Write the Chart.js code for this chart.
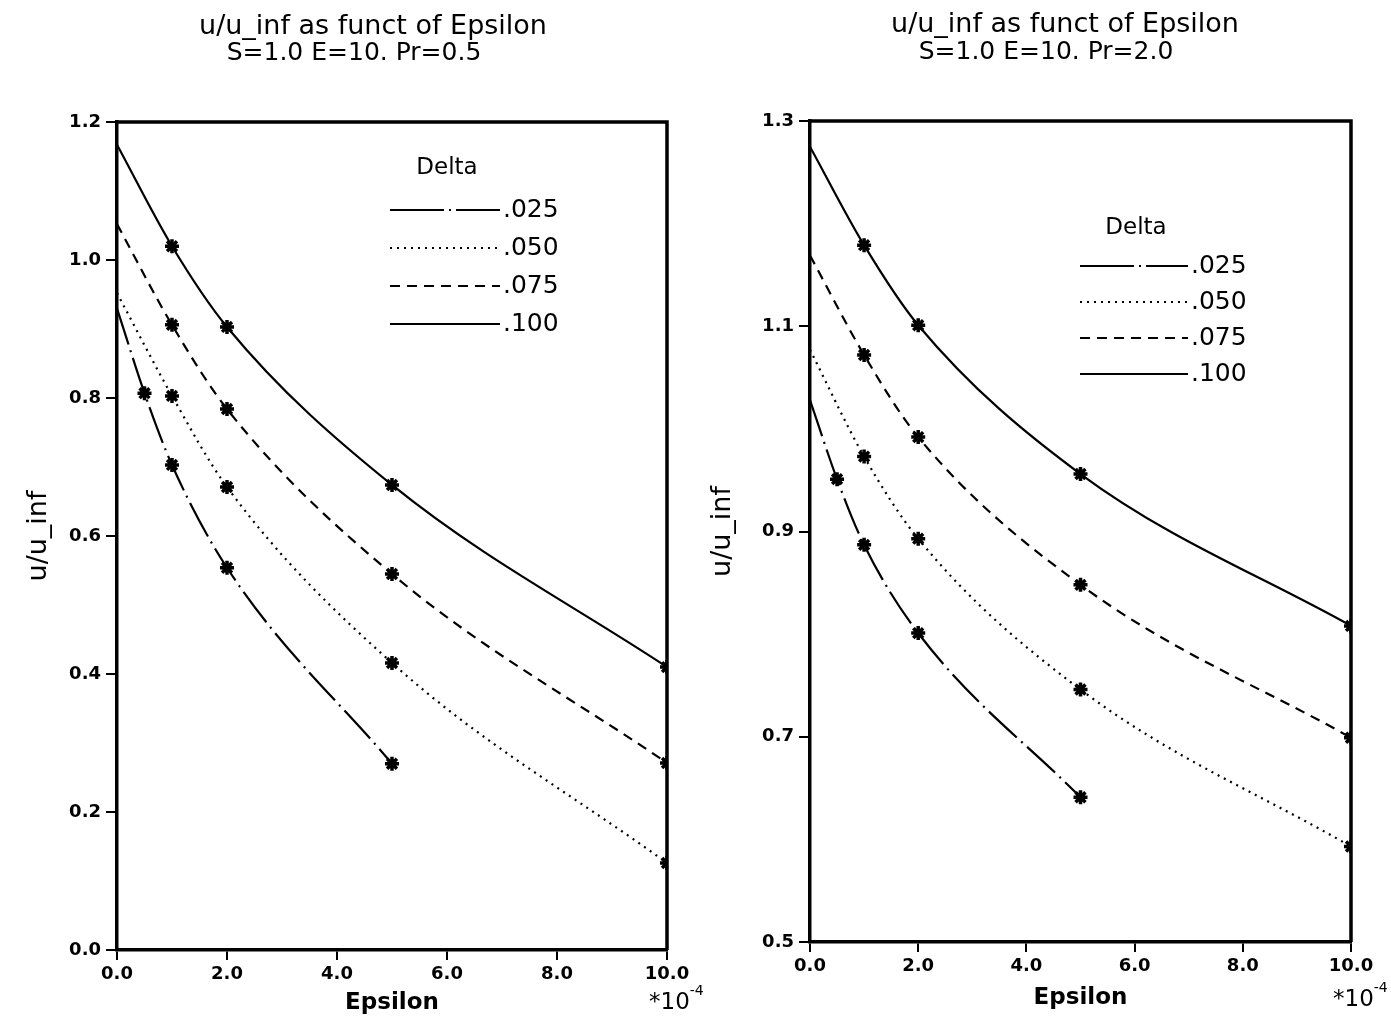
<!DOCTYPE html>
<html>
<head>
<meta charset="utf-8">
<script src="https://cdn.jsdelivr.net/npm/chart.js@4/dist/chart.umd.min.js"></script>
<style>
    body { margin: 0; background: #fff; }
    .panel { position: absolute; top: 0; height: 1020px; }
    #left { left: 0; width: 705px; z-index: 1; }
    #right { left: 695px; width: 696px; z-index: 2; }
</style>
</head>
<body>
<div class="panel" id="left"><canvas id="chartLeft"></canvas></div>
<div class="panel" id="right"><canvas id="chartRight"></canvas></div>
<script>
// Data (Epsilon in units of 1e-4)
const xTicks = [0, 2, 4, 6, 8, 10];
const yTicksLeft = [0.0, 0.2, 0.4, 0.6, 0.8, 1.0, 1.2];
const yTicksRight = [0.5, 0.7, 0.9, 1.1, 1.3];
const deltaLabels = ['.025', '.050', '.075', '.100'];

const eps025 = [0, 0.5, 1, 2, 5];
const epsOther = [0, 1, 2, 5, 10];

// Pr = 0.5
const left025 = [0.930, 0.807, 0.703, 0.554, 0.270];
const left050 = [0.952, 0.803, 0.671, 0.416, 0.126];
const left075 = [1.052, 0.906, 0.784, 0.545, 0.271];
const left100 = [1.167, 1.020, 0.903, 0.674, 0.410];

// Pr = 2.0
const right025 = [1.028, 0.951, 0.887, 0.801, 0.641];
const right050 = [1.077, 0.973, 0.893, 0.746, 0.593];
const right075 = [1.169, 1.072, 0.992, 0.848, 0.699];
const right100 = [1.275, 1.179, 1.101, 0.956, 0.808];

const lineDashes = [[38, 6, 2, 6], [2, 5], [10, 7], []];
const legendDashes = [[54, 5, 2, 5], [2, 5], [10, 7], []];
const FONT = '"DejaVu Sans", sans-serif';

function toPoints(xs, ys) {
    return xs.map((x, i) => ({ x: x, y: ys[i] }));
}

// Titles, legend, frame and the *10^-4 note
const decorPlugin = {
    id: 'decor',
    afterDraw(chart, args, opts) {
        const ctx = chart.ctx;
        const area = chart.chartArea;
        ctx.save();

        // frame top and right
        ctx.strokeStyle = '#000';
        ctx.lineWidth = 3.5;
        ctx.beginPath();
        ctx.moveTo(area.left, area.top);
        ctx.lineTo(area.right, area.top);
        ctx.lineTo(area.right, area.bottom);
        ctx.stroke();

        // titles
        ctx.fillStyle = '#000';
        ctx.textAlign = 'center';
        ctx.textBaseline = 'middle';
        ctx.font = '27px ' + FONT;
        ctx.fillText(opts.title[0], opts.titleX[0], opts.titleY[0]);
        ctx.font = '25px ' + FONT;
        ctx.fillText(opts.title[1], opts.titleX[1], opts.titleY[1]);

        // legend
        const lg = opts.legend;
        ctx.font = '23px ' + FONT;
        ctx.fillText('Delta', lg.headX, lg.headY);
        ctx.textAlign = 'left';
        ctx.font = '25px ' + FONT;
        deltaLabels.forEach((lab, i) => {
            const y = lg.rowY[i];
            ctx.setLineDash(legendDashes[i]);
            ctx.lineWidth = 2.2;
            ctx.beginPath();
            ctx.moveTo(lg.x0, y);
            ctx.lineTo(lg.x1, y);
            ctx.stroke();
            ctx.setLineDash([]);
            ctx.fillText(lab, lg.x1 + 3, y);
        });

        // multiplier
        ctx.textBaseline = 'alphabetic';
        ctx.font = '23px ' + FONT;
        const nx = area.right - 18;
        const ny = area.bottom + opts.noteDy;
        ctx.fillText('*10', nx, ny);
        const w = ctx.measureText('*10').width;
        ctx.font = '14px ' + FONT;
        ctx.fillText('-4', nx + w, ny - 14);

        ctx.restore();
    }
};

function makeChart(canvasId, setup) {
    const ctx = document.getElementById(canvasId).getContext('2d');
    const datasets = setup.series.map((ys, i) => ({
        label: deltaLabels[i],
        data: toPoints(i === 0 ? eps025 : epsOther, ys),
        borderColor: '#000',
        borderWidth: 2.2,
        borderDash: lineDashes[i],
        fill: false,
        cubicInterpolationMode: 'monotone',
        pointStyle: 'star',
        pointRadius: [0, 7, 7, 7, 7],
        pointBorderWidth: 3.5,
        pointBorderColor: '#000',
        pointBackgroundColor: '#000'
    }));

    return new Chart(ctx, {
        type: 'line',
        data: { datasets: datasets },
        plugins: [decorPlugin],
        options: {
            responsive: true,
            maintainAspectRatio: false,
            animation: false,
            events: [],
            layout: { padding: { top: setup.top, right: setup.right, left: 0, bottom: 0 } },
            plugins: {
                legend: { display: false },
                title: { display: false },
                tooltip: { enabled: false },
                decor: setup.decor
            },
            scales: {
                x: {
                    type: 'linear',
                    min: 0,
                    max: 10,
                    afterFit: s => { s.height = setup.xHeight; },
                    afterBuildTicks: s => { s.ticks = xTicks.map(v => ({ value: v })); },
                    border: { display: true, color: '#000', width: 3.5 },
                    grid: { drawOnChartArea: false, drawTicks: true, tickLength: 10, color: '#000', lineWidth: 2 },
                    ticks: {
                        color: '#000',
                        padding: 4,
                        maxRotation: 0,
                        font: { family: FONT, size: 18, weight: 'bold' },
                        callback: v => v.toFixed(1)
                    },
                    title: {
                        display: true,
                        text: 'Epsilon',
                        color: '#000',
                        font: { family: FONT, size: 23, weight: 'bold' },
                        padding: { top: 0, bottom: setup.xTitlePad }
                    }
                },
                y: {
                    type: 'linear',
                    min: setup.yTicks[0],
                    max: setup.yTicks[setup.yTicks.length - 1],
                    afterFit: s => { s.width = setup.yWidth; },
                    afterBuildTicks: s => { s.ticks = setup.yTicks.map(v => ({ value: v })); },
                    border: { display: true, color: '#000', width: 3.5 },
                    grid: { drawOnChartArea: false, drawTicks: true, tickLength: 11, color: '#000', lineWidth: 2 },
                    ticks: {
                        color: '#000',
                        padding: 5,
                        font: { family: FONT, size: 18, weight: 'bold' },
                        callback: v => v.toFixed(1)
                    },
                    title: {
                        display: true,
                        text: 'u/u_inf',
                        color: '#000',
                        font: { family: FONT, size: 27 },
                        padding: { top: setup.yTitlePad, bottom: 0 }
                    }
                }
            }
        }
    });
}

makeChart('chartLeft', {
    series: [left025, left050, left075, left100],
    yTicks: yTicksLeft,
    top: 122, right: 38, xHeight: 70, yWidth: 117,
    xTitlePad: 3, yTitlePad: 23,
    decor: {
        title: ['u/u_inf as funct of Epsilon', 'S=1.0 E=10. Pr=0.5'],
        titleX: [373, 354], titleY: [27, 53],
        legend: { headX: 447, headY: 168, rowY: [210, 248, 286, 324], x0: 390, x1: 500 },
        noteDy: 59
    }
});

makeChart('chartRight', {
    series: [right025, right050, right075, right100],
    yTicks: yTicksRight,
    top: 121, right: 40, xHeight: 78, yWidth: 115,
    xTitlePad: 8, yTitlePad: 12,
    decor: {
        title: ['u/u_inf as funct of Epsilon', 'S=1.0 E=10. Pr=2.0'],
        titleX: [370, 351], titleY: [25, 52],
        legend: { headX: 441, headY: 228, rowY: [266, 302, 338, 374], x0: 385, x1: 493 },
        noteDy: 64
    }
});
</script>
</body>
</html>
